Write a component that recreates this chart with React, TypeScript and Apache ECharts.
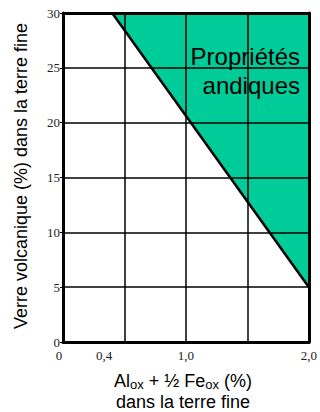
import React, { useEffect, useRef } from "react";
import * as echarts from "echarts";

const xTickValues = [0, 0.4, 1.0, 2.0];
const boundaryX = [0.4, 2.0];
const boundaryY = [30, 5];
const yTitle = "Verre volcanique (%) dans la terre fine";
const zoneLines = ["Propriétés", "andiques"];

export default function App() {
  const ref = useRef<HTMLDivElement>(null);
  useEffect(() => {
    const chart = echarts.init(ref.current!, null, { renderer: "svg" });
    const tickFont = { fontFamily: "Liberation Serif", fontSize: 13, color: "#222" };
    chart.setOption({
      animation: false,
      grid: { left: 63, right: 5, top: 13, bottom: 70 },
      xAxis: [
        {
          type: "value",
          min: 0,
          max: 2,
          interval: 0.5,
          z: 5,
          axisLine: { show: true, lineStyle: { color: "#000", width: 3 } },
          axisTick: { show: false },
          splitLine: { show: true, lineStyle: { color: "#000", width: 1.5 } },
          axisLabel: {
            show: true,
            margin: 7,
            customValues: xTickValues,
            formatter: (v: number) => {
              const s = v === 0 ? "0" : v.toFixed(1).replace(".", ",");
              if (v === 0) return "{z|" + s + "}";
              if (Math.abs(v - 0.4) < 1e-9) return "{q|" + s + "}";
              return "{d|" + s + "}";
            },
            rich: {
              z: { ...tickFont, padding: [0, 8, 0, 0] },
              q: { ...tickFont, padding: [0, 16, 0, 0] },
              d: { ...tickFont },
            },
          },
        },
        {
          type: "value",
          position: "top",
          min: 0,
          max: 2,
          z: 5,
          axisLine: { show: true, onZero: false, lineStyle: { color: "#000", width: 3 } },
          axisTick: { show: false },
          axisLabel: { show: false },
          splitLine: { show: false },
        },
      ],
      yAxis: [
        {
          type: "value",
          min: 0,
          max: 30,
          interval: 5,
          z: 5,
          axisLine: { show: true, lineStyle: { color: "#000", width: 3 } },
          axisTick: { show: true, length: 3, lineStyle: { color: "#000", width: 1 } },
          splitLine: { show: true, lineStyle: { color: "#000", width: 1.5 } },
          axisLabel: { margin: 3, ...tickFont },
        },
        {
          type: "value",
          position: "right",
          min: 0,
          max: 30,
          z: 5,
          axisLine: { show: true, onZero: false, lineStyle: { color: "#000", width: 3 } },
          axisTick: { show: false },
          axisLabel: { show: false },
          splitLine: { show: false },
        },
      ],
      series: [
        {
          type: "line",
          xAxisIndex: 0,
          yAxisIndex: 0,
          data: boundaryX.map((x, i) => [x, boundaryY[i]]),
          symbol: "none",
          z: 2,
          lineStyle: { color: "#000", width: 2.5 },
          areaStyle: { color: "#00cc99", opacity: 1, origin: "end" },
        },
      ],
      graphic: [
        {
          type: "text",
          x: 21,
          y: 176,
          rotation: Math.PI / 2,
          z: 10,
          style: {
            text: yTitle,
            fontFamily: "Liberation Sans",
            fontSize: 18,
            fill: "#000",
            align: "center",
            verticalAlign: "middle",
          },
        },
        {
          type: "text",
          x: 300,
          y: 42,
          z: 10,
          style: {
            text: zoneLines.join("\n"),
            fontFamily: "Liberation Sans",
            fontSize: 24,
            lineHeight: 29,
            fill: "#000",
            align: "right",
            verticalAlign: "top",
          },
        },
        {
          type: "text",
          x: 183,
          y: 370,
          z: 10,
          style: {
            text: "{n|Al}{s|ox}{n| + ½ Fe}{s|ox}{n| (%)}\n{n|dans la terre fine}",
            align: "center",
            verticalAlign: "top",
            fill: "#000",
            rich: {
              n: { fontFamily: "Liberation Sans", fontSize: 18, lineHeight: 21, fill: "#000" },
              s: { fontFamily: "Liberation Sans", fontSize: 13, lineHeight: 21, fill: "#000", padding: [9, 0, 0, 0], verticalAlign: "bottom" },
            },
          },
        },
      ],
    });
    return () => chart.dispose();
  }, []);
  return (
    <div
      ref={ref}
      style={{ position: "fixed", left: 0, top: 0, width: 320, height: 412, background: "#fff" }}
    />
  );
}
